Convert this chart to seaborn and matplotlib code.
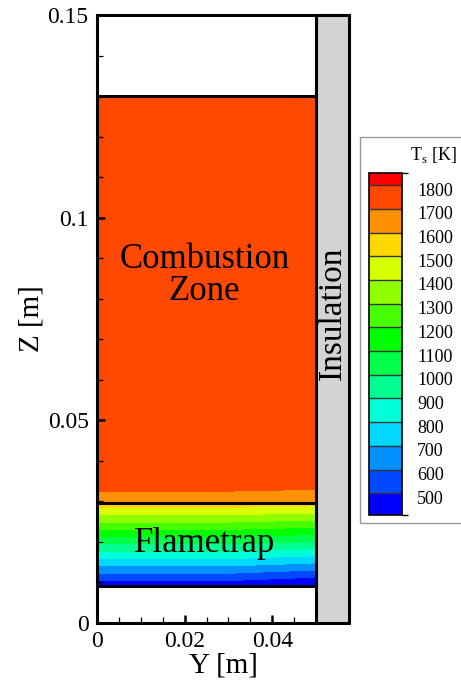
import numpy as np
import matplotlib
matplotlib.use("Agg")
import matplotlib.pyplot as plt
from matplotlib.patches import Rectangle
from matplotlib.colors import ListedColormap, BoundaryNorm
from matplotlib.cm import ScalarMappable
from matplotlib.ticker import FixedLocator
from matplotlib.transforms import ScaledTranslation
import seaborn as sns

# contour levels [K] and flood colours (small rainbow)
levels = [300, 500, 600, 700, 800, 900, 1000, 1100, 1200, 1300, 1400,
          1500, 1600, 1700, 1800, 2000]
level_colors = ["#0000FF", "#0048FF", "#0090FF", "#00D8FF", "#00FFD8",
                "#00FF90", "#00FF48", "#00FF00", "#48FF00", "#90FF00",
                "#D8FF00", "#FFD800", "#FF9000", "#FF4800", "#FF0000"]

# legend boxes
cbar_bounds = [408, 500, 600, 700, 800, 900, 1000, 1100, 1200, 1300, 1400,
               1500, 1600, 1700, 1800, 1850]
cbar_ticks = [500, 600, 700, 800, 900, 1000, 1100, 1200, 1300, 1400,
              1500, 1600, 1700, 1800]

# radial columns of the solid temperature field [m]
y_cols = [0.0, 0.03, 0.05]

# flametrap: solid temperature at bottom / top [K]
z_trap = [0.0092, 0.0296]
T_trap = [[430, 430, 380],
          [1560, 1560, 1540]]

# combustion zone
z_comb = [0.0296, 0.034, 0.13]
T_comb = [[1620, 1620, 1600],
          [1740, 1740, 1730],
          [1760, 1760, 1760]]

# zone boundaries
z_lines = [0.0092, 0.0296, 0.13]

sns.set_theme(style="white")
plt.rcParams["font.family"] = ["Liberation Serif", "DejaVu Serif"]
plt.rcParams["mathtext.fontset"] = "custom"
plt.rcParams["mathtext.rm"] = "Liberation Serif"
for k in ["text.color", "axes.labelcolor", "xtick.color", "ytick.color"]:
    plt.rcParams[k] = "black"

fig = plt.figure(figsize=(4.61, 6.83), dpi=100)
ax = fig.add_axes([97/461, 60/683, 252/461, 608/683])
ax.set_axisbelow(False)

Y, Z = np.meshgrid(y_cols, z_trap)
ax.contourf(Y, Z, np.array(T_trap), levels=levels, colors=level_colors)
Y, Z = np.meshgrid(y_cols, z_comb)
ax.contourf(Y, Z, np.array(T_comb), levels=levels, colors=level_colors)

ax.hlines(z_lines, 0, 0.05, color="black", lw=2.2, zorder=3)

# insulation layer
ax.add_patch(Rectangle((0.05, 0), 0.0075, 0.15, facecolor="#D3D3D3",
                       edgecolor="black", lw=2.2, zorder=4, clip_on=False))
ax.text(0.05375, 0.0765, "Insulation", rotation=90, ha="center", va="center",
        fontsize=24, zorder=5)
ax.text(0.0245, 0.0857, "Combustion\nZone", ha="center", va="center",
        fontsize=25, linespacing=0.95)
ax.text(0.0245, 0.0197, "Flametrap", ha="center", va="center", fontsize=25)

ax.set_xlim(0, 0.0575)
ax.set_ylim(0, 0.15)
ax.spines["right"].set_visible(False)
ax.spines["bottom"].set_bounds(0, 0.05)
for s in ["left", "bottom", "top"]:
    ax.spines[s].set_linewidth(2.2)
    ax.spines[s].set_color("black")

ax.set_xticks([0, 0.02, 0.04])
ax.set_xticklabels(["0", "0.02", "0.04"])
ax.xaxis.set_minor_locator(FixedLocator([0.005, 0.01, 0.015, 0.025, 0.03, 0.035, 0.045]))
ax.set_yticks([0, 0.05, 0.1, 0.15])
ax.set_yticklabels(["0", "0.05", "0.1", "0.15"])
ax.yaxis.set_minor_locator(FixedLocator([0.01, 0.02, 0.03, 0.04, 0.06, 0.07, 0.08, 0.09,
                                         0.11, 0.12, 0.13, 0.14]))
ax.tick_params(which="major", direction="in", length=5.5, width=1.8,
               labelsize=17, color="black", pad=6, bottom=True, left=True)
ax.tick_params(which="minor", direction="in", length=4.5, width=0.9,
               color="black", bottom=True, left=True)
ax.set_xlabel("Y [m]", fontsize=21, labelpad=0)
ax.set_ylabel("Z [m]", fontsize=21, labelpad=2)

# legend
fig.add_artist(Rectangle((360/461, (683-523)/683), 110/461, 386/683,
                         transform=fig.transFigure, fill=False,
                         edgecolor="#999999", lw=1))
cax = fig.add_axes([369/461, 168/683, 33/461, 341.7/683])
sm = ScalarMappable(norm=BoundaryNorm(cbar_bounds, len(level_colors)),
                    cmap=ListedColormap(level_colors))
cb = fig.colorbar(sm, cax=cax, boundaries=cbar_bounds, ticks=cbar_ticks,
                  spacing="proportional", drawedges=True)
cb.outline.set_linewidth(1.2)
cb.outline.set_edgecolor("black")
cb.dividers.set_linewidth(1)
cb.dividers.set_color("#333333")
cax.tick_params(length=0, labelsize=13, pad=11)
for lab in cax.get_yticklabels():
    lab.set_transform(lab.get_transform() + ScaledTranslation(0, -4/100, fig.dpi_scale_trans))
fig.text(433/461, 1 - 155/683, r"T$_\mathrm{s}$ [K]", ha="center", va="center",
         fontsize=13)

fig.savefig("out.png", dpi=100)
